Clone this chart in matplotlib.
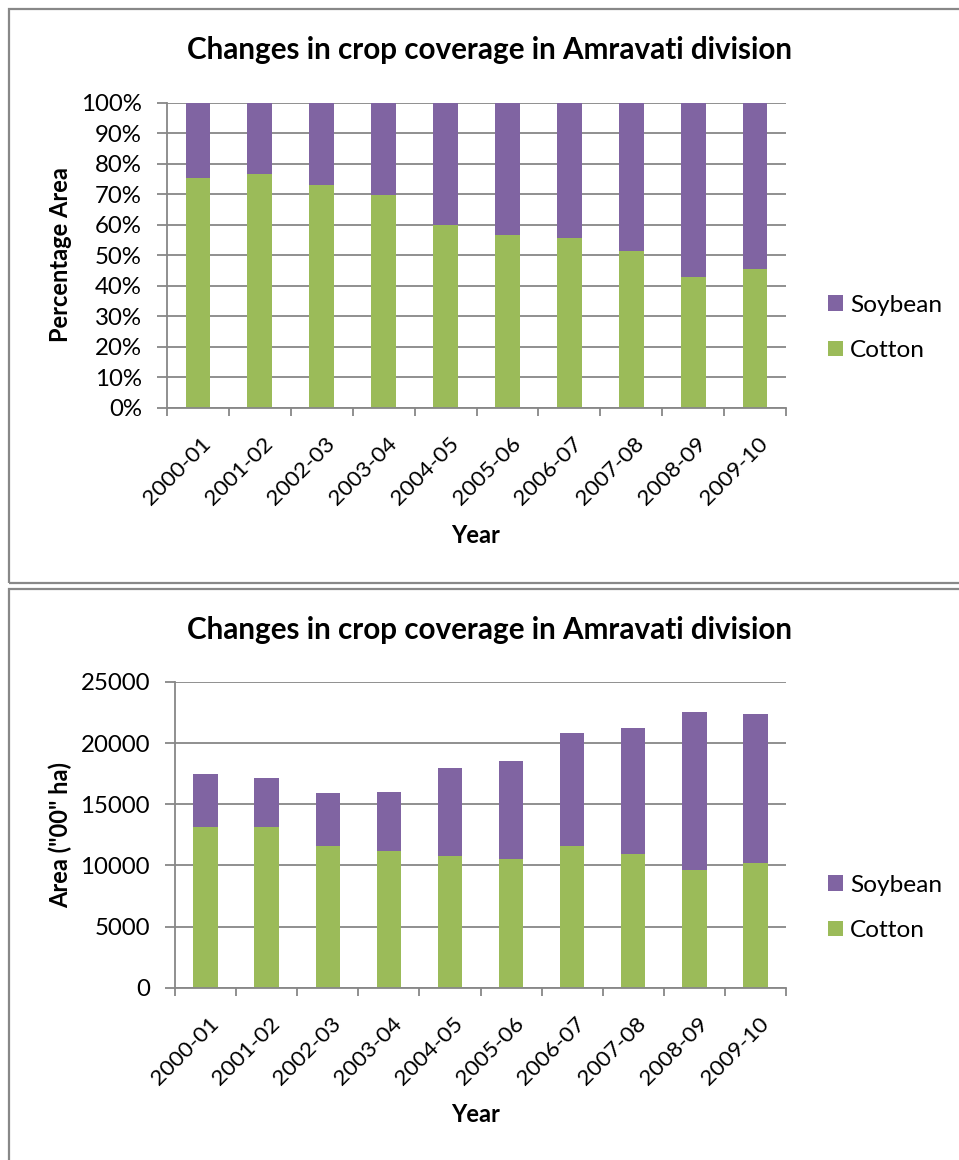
import matplotlib
matplotlib.use("Agg")
import matplotlib.pyplot as plt
import numpy as np
from matplotlib.patches import Rectangle, Patch
from matplotlib.transforms import ScaledTranslation
from matplotlib.ticker import FuncFormatter

# ---- data ----
years = ["2000-01", "2001-02", "2002-03", "2003-04", "2004-05",
         "2005-06", "2006-07", "2007-08", "2008-09", "2009-10"]
cotton = [13130, 13130, 11610, 11170, 10760, 10520, 11580, 10930, 9650, 10190]
soybean = [4310, 4040, 4300, 4850, 7170, 8060, 9240, 10320, 12880, 12180]

title = "Changes in crop coverage in Amravati division"
GREEN = "#9BBB59"
PURPLE = "#8064A2"
GRID = "#878787"
FONT = "Lato"

W, H = 959, 1160
DPI = 100
fig = plt.figure(figsize=(W / DPI, H / DPI), dpi=DPI)
plt.rcParams['font.family'] = [FONT, 'DejaVu Sans']

TICK_FS = 17.3
XTICK_FS = 16.2
LABEL_FS = 17
TITLE_FS = 21.3
LEG_FS = 17.6


def fx(px):
    return px / W


def fy(py):
    return 1 - py / H


# panel borders
fig.patches.append(Rectangle((fx(9), fy(583)), fx(980 - 9), (583 - 9) / H,
                             transform=fig.transFigure, fill=False,
                             edgecolor="#888888", linewidth=1.6))
fig.patches.append(Rectangle((fx(9), fy(1200)), fx(980 - 9), (1200 - 589) / H,
                             transform=fig.transFigure, fill=False,
                             edgecolor="#888888", linewidth=1.6))


def make_axes(left, right, top, bottom):
    return fig.add_axes([fx(left), fy(bottom), fx(right - left), (bottom - top) / H])


def style(ax, ylabel, ylabel_y, yticks, fmt, title_y, xlabel_y, legend_y):
    x = np.arange(len(years))
    ax.set_xlim(-0.5, len(years) - 0.5)
    ax.set_axisbelow(True)
    ax.grid(axis="y", color=GRID, linewidth=1.3)
    for s in ["top", "right"]:
        ax.spines[s].set_visible(False)
    for s in ["left", "bottom"]:
        ax.spines[s].set_color(GRID)
        ax.spines[s].set_linewidth(1.3)
    ax.set_yticks(yticks)
    ax.yaxis.set_major_formatter(FuncFormatter(fmt))
    ax.set_xticks(np.arange(len(years) + 1) - 0.5, minor=False)
    ax.set_xticklabels([])
    ax.set_xticks(x, minor=True)
    ax.set_xticklabels(years, minor=True, rotation=45, ha="right", va="center",
                       rotation_mode="anchor", fontsize=XTICK_FS)
    ax.tick_params(axis="x", which="minor", length=0, pad=24)
    ax.tick_params(axis="x", which="major", length=6, width=1.3, color=GRID)
    ax.tick_params(axis="y", length=7, width=1.3, color=GRID, labelsize=TICK_FS, pad=11)
    for lab in ax.get_xticklabels(minor=True):
        lab.set_transform(lab.get_transform() + ScaledTranslation(0.1, 0, fig.dpi_scale_trans))
    fig.text(fx(489), fy(title_y), title, ha="center", va="center",
             fontsize=TITLE_FS, fontweight="bold")
    fig.text(fx(476), fy(xlabel_y), "Year", ha="center", va="center",
             fontsize=LABEL_FS, fontweight="bold")
    fig.text(fx(60), fy(ylabel_y), ylabel, rotation=90, ha="center", va="center",
             fontsize=LABEL_FS, fontweight="bold")
    handles = [Patch(facecolor=PURPLE, label="Soybean"),
               Patch(facecolor=GREEN, label="Cotton")]
    ax.legend(handles=handles, loc="center left",
              bbox_to_anchor=(fx(806), fy(legend_y)), bbox_transform=fig.transFigure,
              frameon=False, fontsize=LEG_FS, handlelength=0.6, handleheight=0.6,
              handletextpad=0.3, labelspacing=1.0)


x = np.arange(len(years))
cot = np.array(cotton, dtype=float)
soy = np.array(soybean, dtype=float)
tot = cot + soy

# ---- top chart: percentage ----
ax1 = make_axes(167, 786, 102.7, 407.7)
ax1.bar(x, cot / tot * 100, width=0.4, color=GREEN)
ax1.bar(x, soy / tot * 100, width=0.4, bottom=cot / tot * 100, color=PURPLE)
ax1.set_ylim(0, 100)
style(ax1, "Percentage Area", 255, np.arange(0, 101, 10), lambda v, p: f"{int(v)}%",
      50, 535, 328)

# ---- bottom chart: absolute ----
ax2 = make_axes(175, 786, 682, 987.7)
ax2.bar(x, cot, width=0.4, color=GREEN)
ax2.bar(x, soy, width=0.4, bottom=cot, color=PURPLE)
ax2.set_ylim(0, 25000)
style(ax2, 'Area ("00" ha)', 835, np.arange(0, 25001, 5000), lambda v, p: f"{int(v)}",
      630, 1115, 908)

fig.savefig("out.png", dpi=DPI)
